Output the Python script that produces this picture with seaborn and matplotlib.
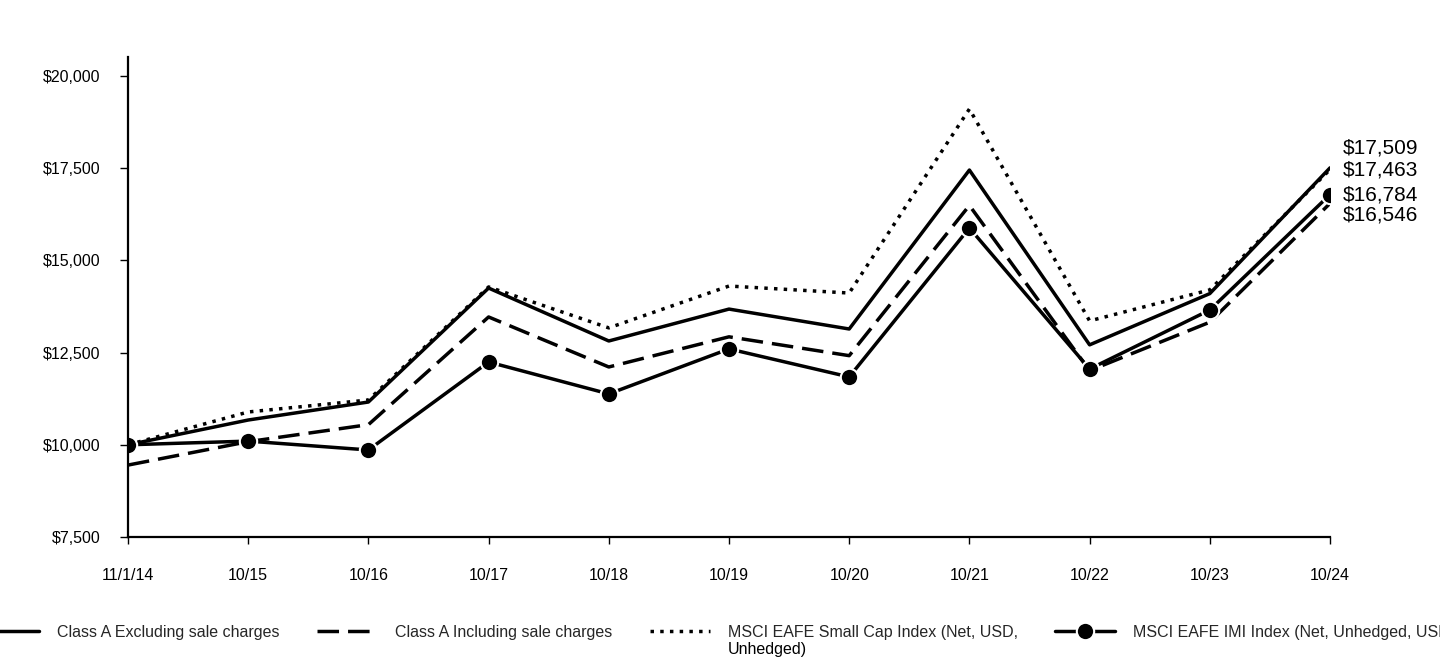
import matplotlib
matplotlib.use("Agg")
import matplotlib.pyplot as plt
import seaborn as sns
import numpy as np
import pandas as pd

dates = ["11/1/14", "10/15", "10/16", "10/17", "10/18", "10/19", "10/20", "10/21", "10/22", "10/23", "10/24"]
class_a_excl = [10000, 10672, 11160, 14250, 12815, 13680, 13140, 17450, 12710, 14100, 17509]
class_a_incl = [9450, 10085, 10546, 13466, 12110, 12928, 12417, 16490, 12011, 13325, 16546]
small_cap = [10000, 10890, 11215, 14280, 13170, 14305, 14115, 19105, 13360, 14200, 17463]
imi = [10000, 10100, 9860, 12245, 11380, 12600, 11840, 15880, 12055, 13655, 16784]

names = ["Class A Excluding sale charges", "Class A Including sale charges",
         "MSCI EAFE Small Cap Index (Net, USD,", "MSCI EAFE IMI Index (Net, Unhedged, USD)"]
name3_cont = "Unhedged)"
end_labels = ["$17,509", "$17,463", "$16,784", "$16,546"]

sns.set_theme(style="white")
plt.rcParams['font.family'] = ['Liberation Sans', 'DejaVu Sans']

fig = plt.figure(figsize=(14.4, 6.6), dpi=100)
ax = fig.add_axes([128/1440, 1-537/660, (1330-128)/1440, (537-57)/660])

x = np.arange(len(dates))
df = pd.DataFrame({"x": x, "excl": class_a_excl, "incl": class_a_incl, "sc": small_cap, "imi": imi})

lw = 2.5
sns.lineplot(data=df, x="x", y="excl", ax=ax, color="black", lw=lw, label=names[0])
sns.lineplot(data=df, x="x", y="incl", ax=ax, color="black", lw=lw, label=names[1],
             linestyle=(0, (6.2, 2.6)))
sns.lineplot(data=df, x="x", y="sc", ax=ax, color="black", lw=lw, label=names[2],
             linestyle=(0, (1, 1.8)))
sns.lineplot(data=df, x="x", y="imi", ax=ax, color="black", lw=lw, label=names[3],
             marker="o", markersize=12.5, markeredgecolor="white", markeredgewidth=1.5)

handles, labels = ax.get_legend_handles_labels()
ax.get_legend().remove()

ax.set_xlim(0, 10)
ax.set_ylim(7500, 20515)
ax.set_yticks([7500, 10000, 12500, 15000, 17500, 20000])
ax.set_yticklabels(["$7,500", "$10,000", "$12,500", "$15,000", "$17,500", "$20,000"])
ax.set_xticks(x)
ax.set_xticklabels(dates)
ax.set_xlabel("")
ax.set_ylabel("")
for s in ["top", "right"]:
    ax.spines[s].set_visible(False)
for s in ["left", "bottom"]:
    ax.spines[s].set_color("black")
    ax.spines[s].set_linewidth(1.6)
ax.tick_params(axis="y", which="major", left=True, length=6, width=1, color="black",
               labelsize=11.5, pad=14, labelcolor="black")
ax.tick_params(axis="x", which="major", bottom=True, length=5, width=1, color="black",
               labelsize=11.5, pad=17, labelcolor="black")
ax.grid(False)

# end labels
vals = [class_a_excl[-1], small_cap[-1], imi[-1], class_a_incl[-1]]
offs = [14.5, 0, 0, -8.5]
for v, t, o in zip(vals, end_labels, offs):
    ax.annotate(t, xy=(10, v), xytext=(9, o), textcoords="offset points",
                fontsize=15, ha="left", va="center", color="black", annotation_clip=False)

leg = fig.legend(handles, labels, loc="upper left", bbox_to_anchor=(-21/1440, 1-625/660),
                 ncol=4, frameon=False, fontsize=11.5, handlelength=3.75, handletextpad=1.13,
                 columnspacing=2.35, borderpad=0, borderaxespad=0)

# continuation line of the third legend entry
fig.canvas.draw()
r = fig.canvas.get_renderer()
bb = leg.get_texts()[2].get_window_extent(r)
fig.text(bb.x0 / fig.bbox.width, (bb.y0 - 2) / fig.bbox.height, name3_cont,
         fontsize=11.5, ha="left", va="top", color="black")

fig.savefig("out.png", dpi=100)
